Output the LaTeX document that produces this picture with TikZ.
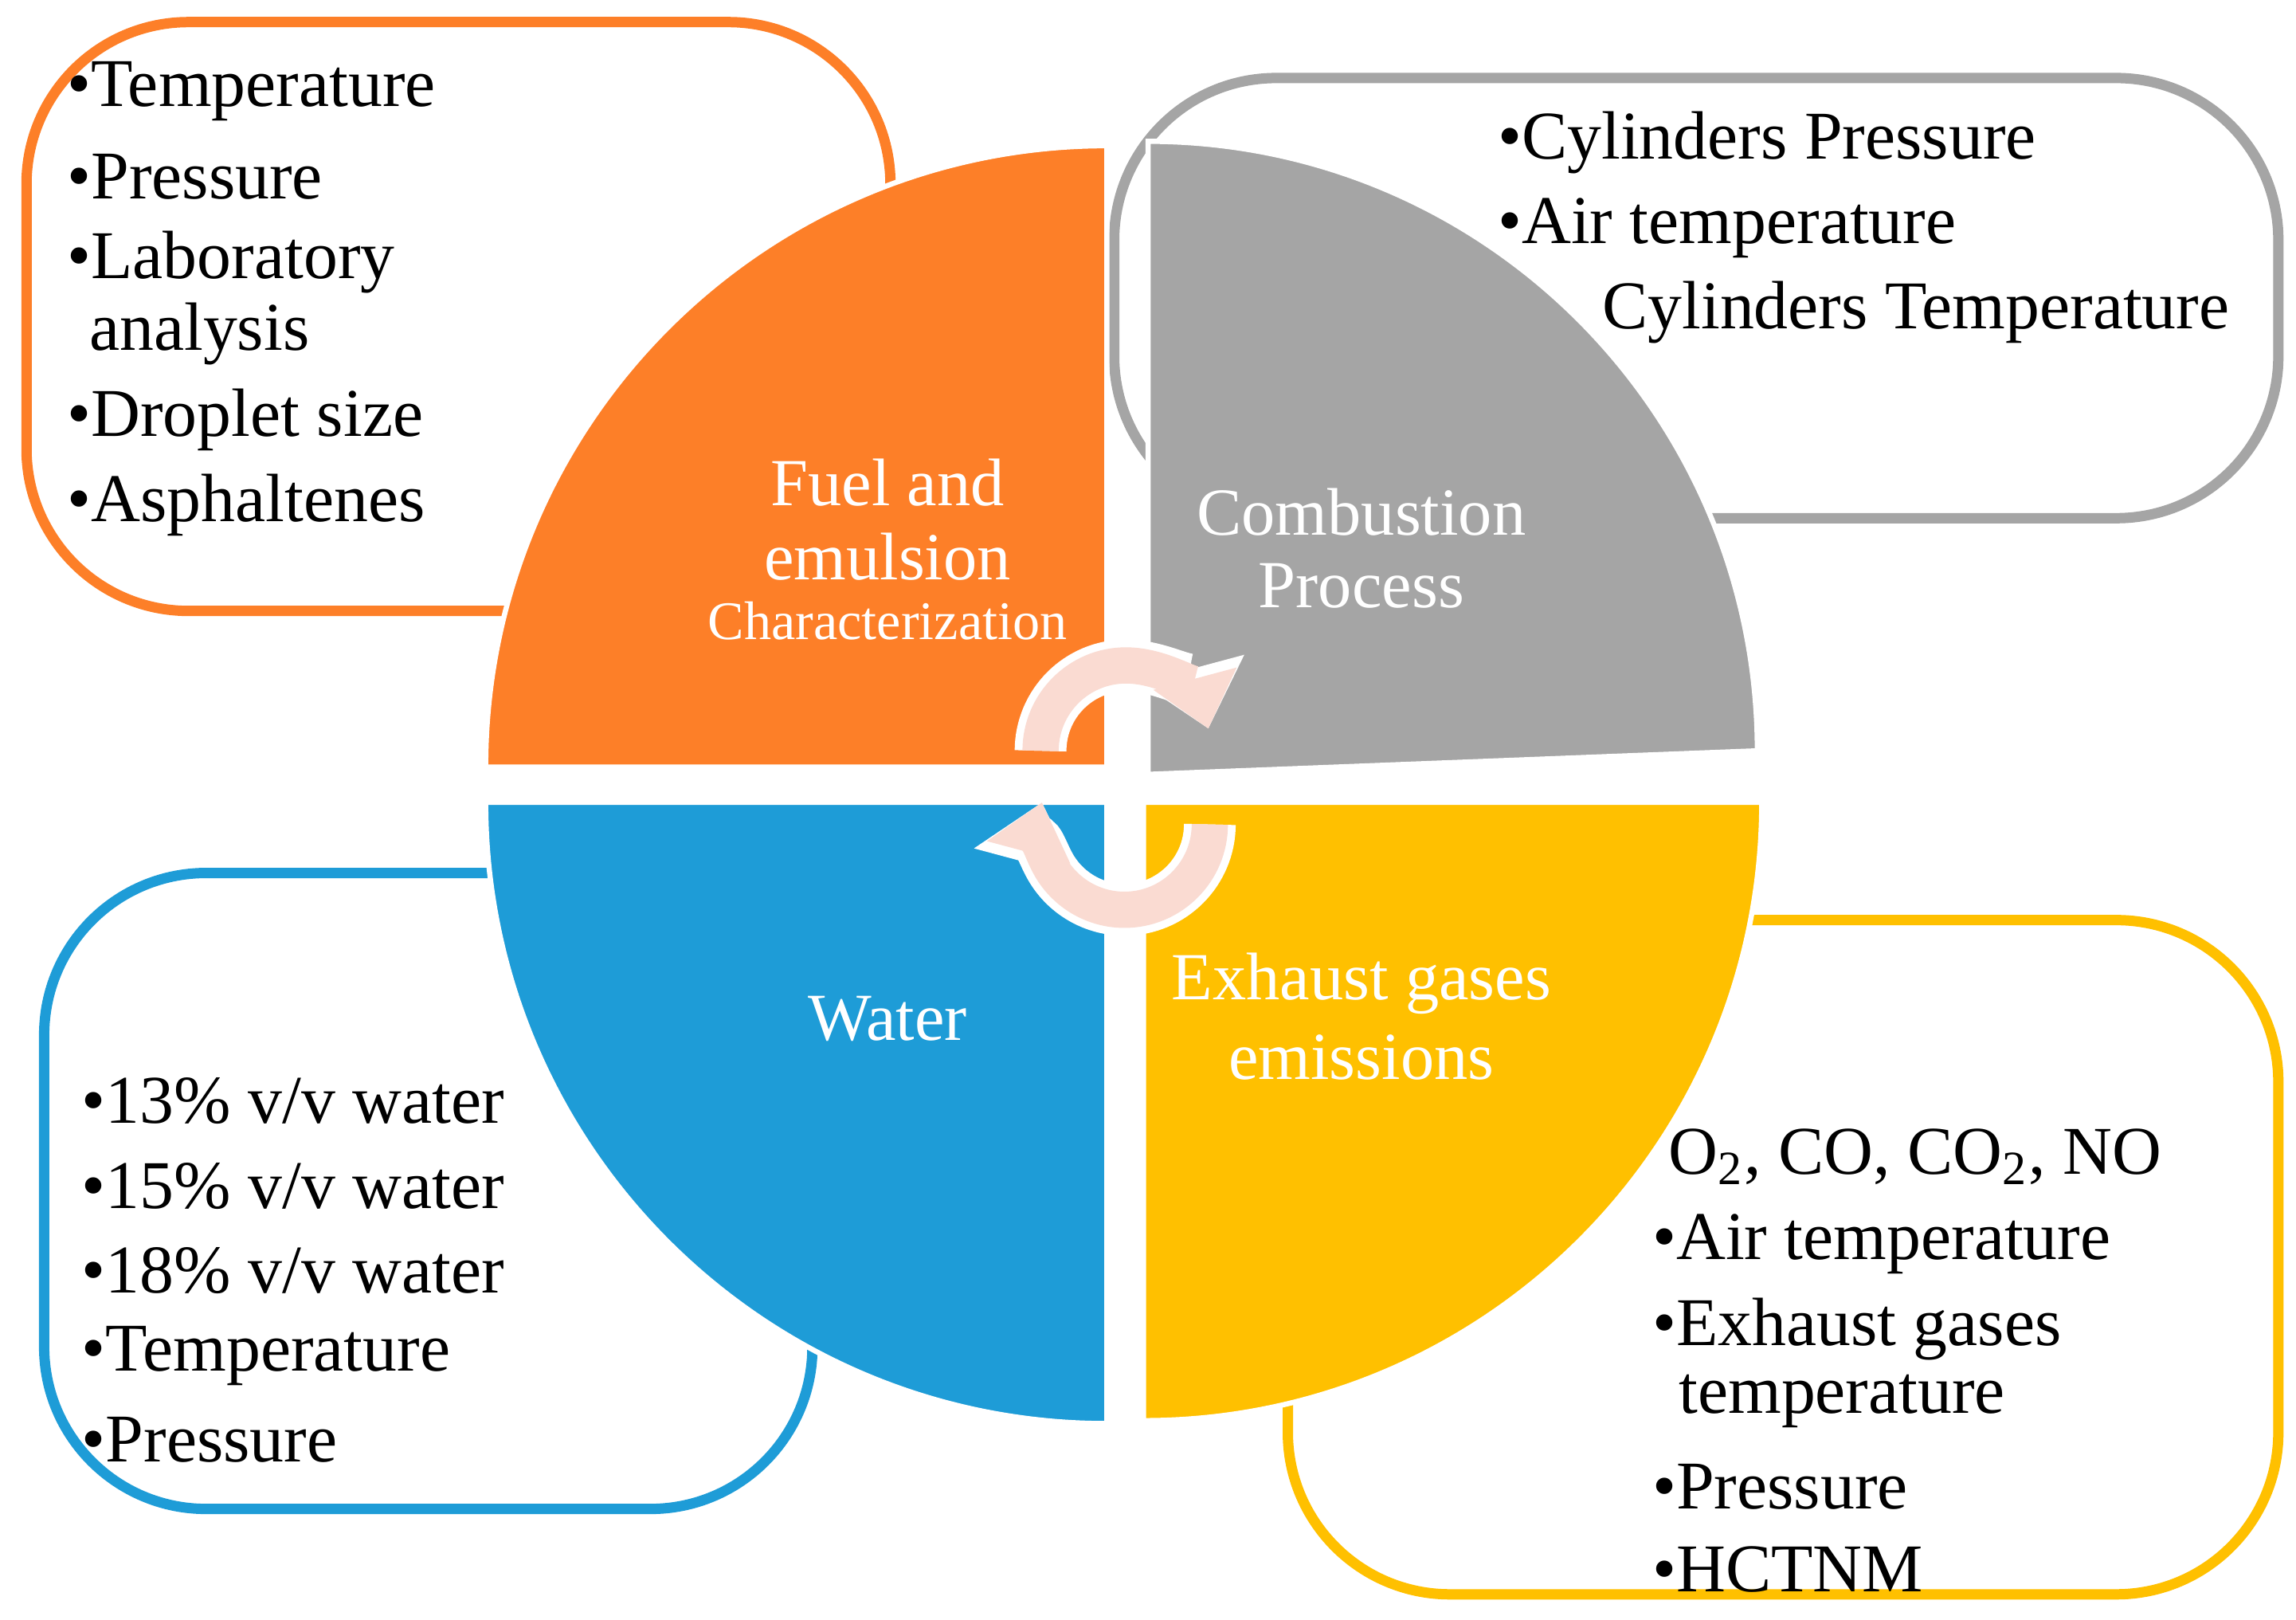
\documentclass[tikz,border=0pt]{standalone}
\usepackage{fontspec}
\setmainfont{Liberation Serif}
\usetikzlibrary{arrows.meta}
\definecolor{cor}{HTML}{FD7F28}
\definecolor{cgr}{HTML}{A5A5A5}
\definecolor{cbl}{HTML}{1E9CD7}
\definecolor{cye}{HTML}{FFC000}
\definecolor{cpk}{HTML}{FADBD2}
\begin{document}
\begin{tikzpicture}[x=0.01cm,y=0.01cm,
  box/.style={rounded corners=1.1cm,line width=2pt,fill=white},
  quad/.style={draw=white,line width=1pt},
  lt/.style={anchor=west,font=\fontsize{13.2}{15}\selectfont,inner sep=0pt},
  wt/.style={white,font=\fontsize{13}{16}\selectfont,inner sep=0pt},
  ws/.style={white,font=\fontsize{10.5}{13}\selectfont,inner sep=0pt},
  cyc/.style={line width=7pt,cpk,-{Triangle[length=10pt,width=16pt]},preaction={draw=white,line width=10pt,-{Triangle[length=12pt,width=20pt]}}}]
\useasboundingbox (0,-1100) rectangle (1560,0);
% boxes
\draw[box,draw=cor] (18,-15) rectangle (605,-415);
\draw[box,draw=cgr] (757,-53) rectangle (1548,-352);
\draw[box,draw=cbl] (30,-593) rectangle (552,-1025);
\draw[box,draw=cye] (875,-625) rectangle (1548,-1083);
% quadrants
\coordinate (qo) at (752,-521);
\coordinate (qg) at (780,-526);
\coordinate (qb) at (752,-545);
\coordinate (qy) at (777,-545);
\fill[quad,fill=cor] (qo) -- ++(-422,0) arc[start angle=180,end angle=90,radius=422] -- cycle;
\fill[quad,fill=cgr] (qg) -- ++(0,430) arc[start angle=90,end angle=0,radius=414] -- cycle;
\fill[quad,fill=cbl] (qb) -- ++(-422,0) arc[start angle=180,end angle=270,radius=422] -- cycle;
\fill[quad,fill=cye] (qy) -- ++(420,0) arc[start angle=0,end angle=-90,radius=420] -- cycle;
% cycle arrows
\coordinate (a1) at (707,-510);
\coordinate (a2) at (822,-560);
\draw[cyc] (a1) arc[start angle=180,end angle=15,radius=58];
\draw[cyc] (a2) arc[start angle=0,end angle=-195,radius=58];
% quadrant labels
\node[wt] (t1) at (603,-328) {Fuel and};
\node[wt] (t2) at (603,-378) {emulsion};
\node[ws] (t3) at (603,-422) {Characterization};
\node[wt] (t4) at (925,-348) {Combustion};
\node[wt] (t5) at (925,-398) {Process};
\node[wt] (t6) at (603,-692) {Water};
\node[wt] (t7) at (925,-668) {Exhaust gases};
\node[wt] (t8) at (925,-718) {emissions};
% orange list
\node[lt] (o1) at (45,-62) {•Temperature};
\node[lt] (o2) at (45,-120) {•Pressure};
\node[lt] (o3) at (45,-178) {•Laboratory};
\node[lt] (o4) at (60,-227) {analysis};
\node[lt] (o5) at (45,-285) {•Droplet size};
\node[lt] (o6) at (45,-343) {•Asphaltenes};
% gray list
\node[lt] (g1) at (1017,-97) {•Cylinders Pressure};
\node[lt] (g2) at (1017,-155) {•Air temperature};
\node[lt] (g3) at (1088,-212) {Cylinders Temperature};
% blue list
\node[lt] (b1) at (55,-748) {•13\% v/v water};
\node[lt] (b2) at (55,-806) {•15\% v/v water};
\node[lt] (b3) at (55,-863) {•18\% v/v water};
\node[lt] (b4) at (55,-921) {•Temperature};
\node[lt] (b5) at (55,-978) {•Pressure};
% yellow list
\node[lt] (y1) at (1133,-786) {O\textsubscript{2}, CO, CO\textsubscript{2}, NO};
\node[lt] (y2) at (1122,-845) {•Air temperature};
\node[lt] (y3) at (1122,-903) {•Exhaust gases};
\node[lt] (y4) at (1140,-952) {temperature};
\node[lt] (y5) at (1122,-1010) {•Pressure};
\node[lt] (y6) at (1122,-1066) {•HCTNM};
\end{tikzpicture}
\end{document}
